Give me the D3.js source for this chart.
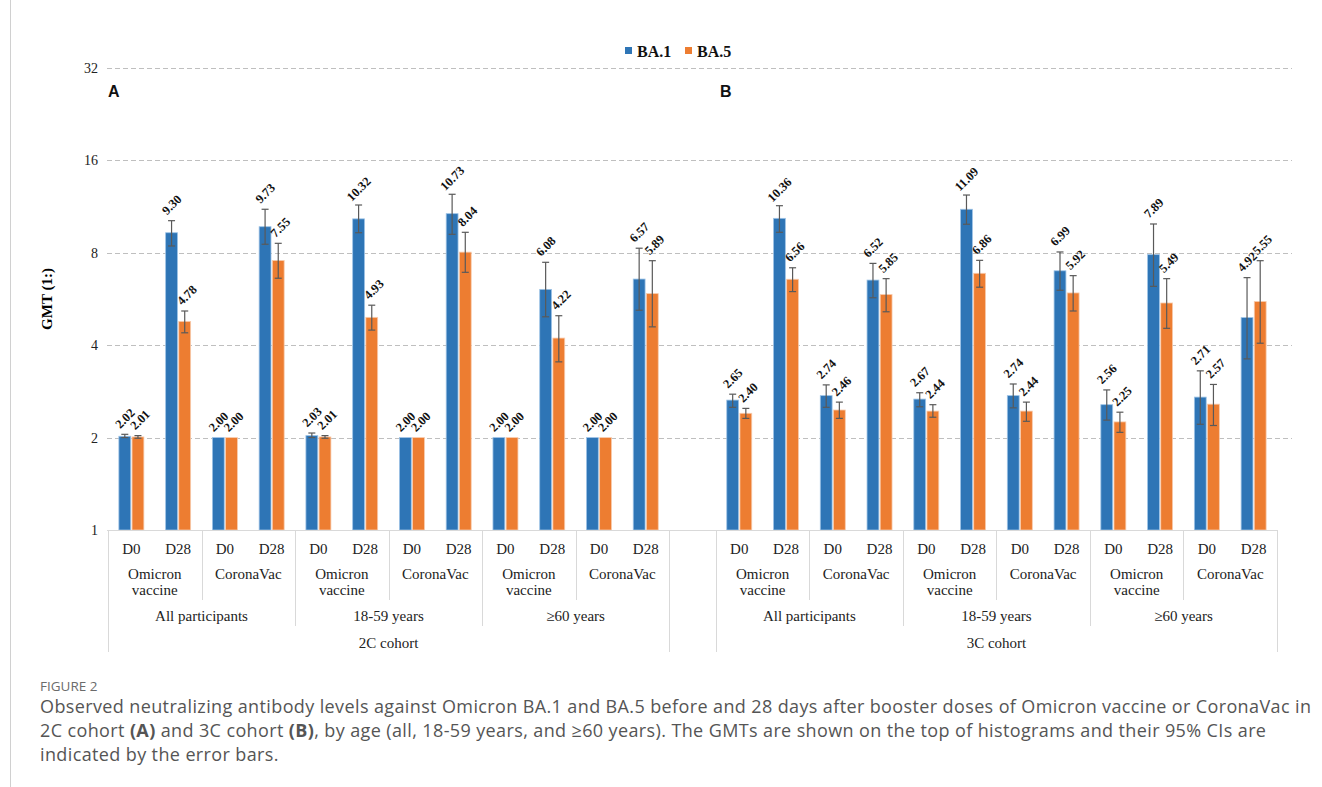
<!DOCTYPE html>
<html>
<head>
<meta charset="utf-8">
<script src="https://cdn.jsdelivr.net/npm/d3@7"></script>
<style>
  body { margin: 0; background: #fff; }
  svg { display: block; }
</style>
</head>
<body>
<div id="chart"></div>
<script>
// categories
const cohorts = ["2C cohort", "3C cohort"];
const ageGroups = ["All participants", "18-59 years", "\u226560 years"];
const vaccines = ["Omicron vaccine", "CoronaVac"];
const timepoints = ["D0", "D28"];
const series = ["BA.1", "BA.5"];
const panelLetters = ["A", "B"];
const yTicks = [1, 2, 4, 8, 16, 32];

// GMT values, ordered age group > vaccine > timepoint
const ba1_2C = [2.02, 9.30, 2.00, 9.73, 2.03, 10.32, 2.00, 10.73, 2.00, 6.08, 2.00, 6.57];
const ba5_2C = [2.01, 4.78, 2.00, 7.55, 2.01, 4.93, 2.00, 8.04, 2.00, 4.22, 2.00, 5.89];
const ba1_3C = [2.65, 10.36, 2.74, 6.52, 2.67, 11.09, 2.74, 6.99, 2.56, 7.89, 2.71, 4.92];
const ba5_3C = [2.40, 6.56, 2.46, 5.85, 2.44, 6.86, 2.44, 5.92, 2.25, 5.49, 2.57, 5.55];

// 95% CI bounds
const ba1_2C_lo = [2.00, 8.42, 2.00, 8.53, 2.00, 9.30, 2.00, 9.19, 2.00, 4.95, 2.00, 5.20];
const ba1_2C_hi = [2.05, 10.18, 2.00, 11.09, 2.07, 11.45, 2.00, 12.41, 2.00, 7.45, 2.00, 8.28];
const ba5_2C_lo = [1.99, 4.39, 2.00, 6.61, 1.99, 4.48, 2.00, 6.91, 2.00, 3.53, 2.00, 4.59];
const ba5_2C_hi = [2.03, 5.17, 2.00, 8.59, 2.03, 5.40, 2.00, 9.33, 2.00, 4.99, 2.00, 7.54];
const ba1_3C_lo = [2.51, 9.33, 2.51, 5.71, 2.52, 9.91, 2.50, 6.04, 2.28, 6.22, 2.21, 3.61];
const ba1_3C_hi = [2.77, 11.39, 2.97, 7.39, 2.80, 12.34, 2.99, 8.05, 2.86, 9.93, 3.30, 6.64];
const ba5_3C_lo = [2.31, 5.98, 2.31, 5.14, 2.33, 6.18, 2.26, 5.17, 2.08, 4.54, 2.19, 4.06];
const ba5_3C_hi = [2.49, 7.15, 2.61, 6.59, 2.56, 7.56, 2.61, 6.74, 2.42, 6.59, 2.98, 7.54];

const gmt = { "2C cohort": [ba1_2C, ba5_2C], "3C cohort": [ba1_3C, ba5_3C] };
const ciLo = { "2C cohort": [ba1_2C_lo, ba5_2C_lo], "3C cohort": [ba1_3C_lo, ba5_3C_lo] };
const ciHi = { "2C cohort": [ba1_2C_hi, ba5_2C_hi], "3C cohort": [ba1_3C_hi, ba5_3C_hi] };

const colors = { "BA.1": "#2e75b6", "BA.5": "#ed7d31" };
const strokes = { "BA.1": "#9dc3e6", "BA.5": "#f8cbad" };

const W = 1322, H = 787;
const plotLeft = 108, plotRight = 1277, gridRight = 1292;
const plotTop = 68, plotBottom = 530;

const svg = d3.select("#chart").append("svg")
  .attr("width", W).attr("height", H);

// page border on the left
svg.append("line")
  .attr("x1", 10.5).attr("x2", 10.5).attr("y1", 0).attr("y2", H)
  .attr("stroke", "#d0d0d0").attr("stroke-width", 1);

// flat list of categories, with an empty slot between cohorts
const rows = [];
cohorts.forEach(function(c, ci) {
  let i = 0;
  ageGroups.forEach(function(a) {
    vaccines.forEach(function(v) {
      timepoints.forEach(function(t) {
        rows.push({ key: c + "|" + a + "|" + v + "|" + t, cohort: c, age: a, vaccine: v, time: t, idx: i });
        i++;
      });
    });
  });
});
const slotKeys = rows.slice(0, 12).map(d => d.key)
  .concat(["gap"])
  .concat(rows.slice(12).map(d => d.key));

const x = d3.scaleBand().domain(slotKeys).range([plotLeft, plotRight]);
const x1 = d3.scaleBand().domain(series).range([-12.5, 12.5]).paddingInner(0.1);
const y = d3.scaleLog().base(2).domain([1, 32]).range([plotBottom, plotTop]);

// gridlines
svg.append("g").selectAll("line")
  .data(yTicks.filter(d => d > 1))
  .enter().append("line")
    .attr("x1", plotLeft - 1).attr("x2", gridRight)
    .attr("y1", d => Math.round(y(d)) + 0.5).attr("y2", d => Math.round(y(d)) + 0.5)
    .attr("stroke", "#bfbfbf").attr("stroke-width", 1)
    .attr("stroke-dasharray", "5,3");

// y axis
const yAxis = svg.append("g")
  .attr("transform", "translate(" + (plotLeft - 10) + ",0)")
  .call(d3.axisLeft(y).tickValues(yTicks).tickFormat(d3.format("d")).tickSize(0).tickPadding(0));
yAxis.select(".domain").remove();
yAxis.selectAll("text")
  .attr("font-family", "Liberation Serif, Times New Roman, serif")
  .attr("font-size", 14).attr("fill", "#222");

svg.append("text")
  .attr("transform", "translate(52,299) rotate(-90)")
  .attr("text-anchor", "middle")
  .attr("font-family", "Liberation Serif, Times New Roman, serif")
  .attr("font-weight", "bold").attr("font-size", 15)
  .text("GMT (1:)");

// bars, error bars, labels
const marks = [];
rows.forEach(function(r) {
  series.forEach(function(s, si) {
    marks.push({
      row: r, series: s,
      v: gmt[r.cohort][si][r.idx],
      lo: ciLo[r.cohort][si][r.idx],
      hi: ciHi[r.cohort][si][r.idx]
    });
  });
});
const cx = d => x(d.row.key) + x.bandwidth() / 2 + x1(d.series) + x1.bandwidth() / 2;

const bars = svg.append("g");
bars.selectAll("rect")
  .data(marks)
  .enter().append("rect")
    .attr("x", d => x(d.row.key) + x.bandwidth() / 2 + x1(d.series))
    .attr("width", x1.bandwidth())
    .attr("y", d => y(d.v))
    .attr("height", d => y(1) - y(d.v))
    .attr("fill", d => colors[d.series])
    .attr("stroke", d => strokes[d.series])
    .attr("stroke-width", 0.8);

const err = svg.append("g").attr("stroke", "#595959").attr("stroke-width", 1.2);
marks.filter(d => d.hi - d.lo > 0.001).forEach(function(d) {
  const c = cx(d);
  err.append("line").attr("x1", c).attr("x2", c).attr("y1", y(d.hi)).attr("y2", y(d.lo));
  err.append("line").attr("x1", c - 3.5).attr("x2", c + 3.5).attr("y1", y(d.hi)).attr("y2", y(d.hi));
  err.append("line").attr("x1", c - 3.5).attr("x2", c + 3.5).attr("y1", y(d.lo)).attr("y2", y(d.lo));
});

svg.append("g").selectAll("text")
  .data(marks)
  .enter().append("text")
    .attr("transform", d => "translate(" + (cx(d) + (d.series === "BA.5" ? 2 : 0)) + "," + (Math.min(y(d.hi), y(d.v)) - 16) + ") rotate(-45)")
    .attr("text-anchor", "middle").attr("dy", "0.35em")
    .attr("font-family", "Liberation Serif, Times New Roman, serif")
    .attr("font-weight", "bold").attr("font-size", 12.5).attr("fill", "#111")
    .text(d => d.v.toFixed(2));

// category axis
const catFont = "Liberation Serif, Times New Roman, serif";
const axisG = svg.append("g").attr("stroke", "#d9d9d9").attr("stroke-width", 1);
axisG.append("line").attr("x1", plotLeft - 1).attr("x2", plotRight)
  .attr("y1", plotBottom + 0.5).attr("y2", plotBottom + 0.5);

const catText = svg.append("g")
  .attr("font-family", catFont).attr("font-size", 15).attr("fill", "#222")
  .attr("text-anchor", "middle");

rows.forEach(function(r) {
  catText.append("text")
    .attr("x", x(r.key) + x.bandwidth() / 2).attr("y", 554)
    .text(r.time);
});

cohorts.forEach(function(c, ci) {
  const cr = rows.filter(d => d.cohort === c);
  const left = x(cr[0].key), right = x(cr[cr.length - 1].key) + x.bandwidth();
  // outer brackets
  [left, right].forEach(function(px) {
    axisG.append("line").attr("x1", Math.round(px) + 0.5).attr("x2", Math.round(px) + 0.5)
      .attr("y1", plotBottom).attr("y2", 652);
  });
  catText.append("text").attr("x", (left + right) / 2).attr("y", 648).text(c);

  ageGroups.forEach(function(a, ai) {
    const ar = cr.filter(d => d.age === a);
    const aL = x(ar[0].key), aR = x(ar[ar.length - 1].key) + x.bandwidth();
    if (ai > 0) {
      axisG.append("line").attr("x1", Math.round(aL) + 0.5).attr("x2", Math.round(aL) + 0.5)
        .attr("y1", plotBottom).attr("y2", 626);
    }
    catText.append("text").attr("x", (aL + aR) / 2).attr("y", 621).text(a);

    vaccines.forEach(function(v, vi) {
      const vr = ar.filter(d => d.vaccine === v);
      const vL = x(vr[0].key), vR = x(vr[vr.length - 1].key) + x.bandwidth();
      if (vi > 0) {
        axisG.append("line").attr("x1", Math.round(vL) + 0.5).attr("x2", Math.round(vL) + 0.5)
          .attr("y1", plotBottom).attr("y2", 600);
      }
      const words = v === "Omicron vaccine" ? ["Omicron", "vaccine"] : [v];
      words.forEach(function(w, wi) {
        catText.append("text").attr("x", (vL + vR) / 2).attr("y", 579 + wi * 16).text(w);
      });
    });
  });

  svg.append("text")
    .attr("x", left + (ci === 0 ? 0 : 4)).attr("y", 97)
    .attr("font-family", "Liberation Sans, Arial, sans-serif")
    .attr("font-weight", "bold").attr("font-size", 16).attr("fill", "#111")
    .text(panelLetters[ci]);
});

// legend
const legend = svg.append("g").attr("transform", "translate(625,0)");
series.forEach(function(s, i) {
  const g = legend.append("g").attr("transform", "translate(" + (i * 60) + ",0)");
  g.append("rect").attr("x", 0).attr("y", 47).attr("width", 7).attr("height", 7).attr("fill", colors[s]);
  g.append("text").attr("x", 12).attr("y", 57)
    .attr("font-family", catFont).attr("font-weight", "bold").attr("font-size", 16).attr("fill", "#111")
    .text(s);
});

// caption
const cap = svg.append("g").attr("font-family", "Open Sans, sans-serif").attr("fill", "#555");
cap.append("text").attr("x", 40).attr("y", 691).attr("font-size", 13.5).attr("fill", "#6b6b6b").text("FIGURE 2");
const capLines = [
  [["Observed neutralizing antibody levels against Omicron BA.1 and BA.5 before and 28 days after booster doses of Omicron vaccine or CoronaVac in", false]],
  [["2C cohort ", false], ["(A)", true], [" and 3C cohort ", false], ["(B)", true],
   [", by age (all, 18-59 years, and \u226560 years). The GMTs are shown on the top of histograms and their 95% CIs are", false]],
  [["indicated by the error bars.", false]]
];
capLines.forEach(function(line, li) {
  const t = cap.append("text").attr("x", 40).attr("y", 713 + li * 24)
    .attr("font-size", 18).attr("letter-spacing", 0.38);
  line.forEach(function(part) {
    t.append("tspan").attr("font-weight", part[1] ? "bold" : null).text(part[0]);
  });
});
</script>
</body>
</html>
